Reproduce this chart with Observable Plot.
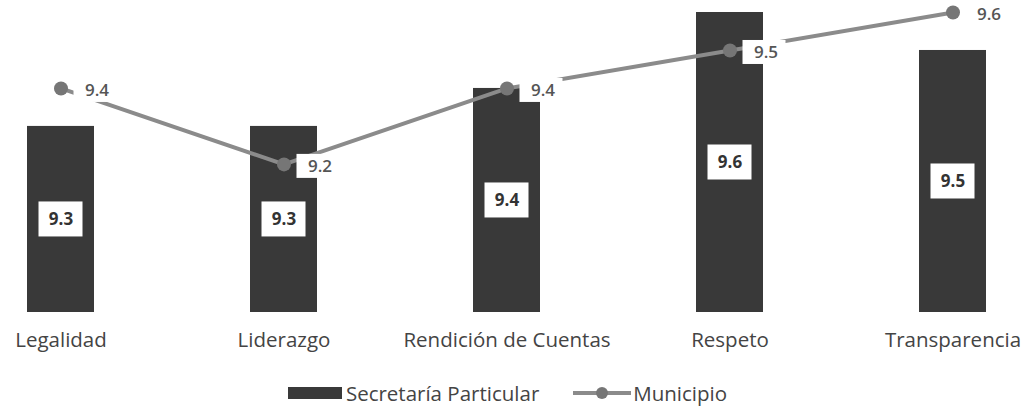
<!DOCTYPE html>
<html><head><meta charset="utf-8">
<script src="https://cdn.jsdelivr.net/npm/d3@7"></script>
<script src="https://cdn.jsdelivr.net/npm/@observablehq/plot@0.6"></script>
<style>
body{margin:0;background:#fff;font-family:"Open Sans",sans-serif;}
#legend{display:flex;justify-content:center;align-items:center;height:41px;font-size:20.5px;color:#444;padding-right:9px;}
#legend .item{display:flex;align-items:center;margin:0 17px;}
</style></head><body><div id="chart"></div><div id="legend"></div>
<script>
const categories = ["Legalidad","Liderazgo","Rendición de Cuentas","Respeto","Transparencia"];
const secretaria = [9.3, 9.3, 9.4, 9.6, 9.5];
const municipio = [9.4, 9.2, 9.4, 9.5, 9.6];
const seriesNames = ["Secretaría Particular", "Municipio"];
const yMin = 8.81, yMax = 9.6;

const data = categories.map((c, i) => ({cat: c, sec: secretaria[i], mun: municipio[i]}));
const H = 372, mTop = 12, mBottom = 60;
const ppu = (H - mTop - mBottom) / (yMax - yMin);
const boxH = 17.5 / ppu;   // half height of bar label boxes
const lboxH = 12 / ppu;    // half height of line label boxes
const lboxOff = 2 / ppu;

const barColor = "#393939", lineColor = "#8b8b8b", dotColor = "#767676";

const chart = Plot.plot({
  width: 1024, height: H,
  marginTop: mTop, marginBottom: mBottom, marginLeft: 0, marginRight: 12,
  style: {fontFamily: "Open Sans, sans-serif", background: "white"},
  x: {domain: categories, paddingInner: 0.7, paddingOuter: 0.11, label: null},
  y: {domain: [yMin, yMax], axis: null},
  marks: [
    Plot.barY(data, {x: "cat", y1: () => yMin, y2: "sec", fill: barColor}),
    Plot.line(data, {x: "cat", y: "mun", stroke: lineColor, strokeWidth: 4}),
    Plot.dot(data, {x: "cat", y: "mun", r: 7, fill: dotColor}),
    Plot.barY(data, {x: "cat", y1: d => d.mun - lboxOff - lboxH, y2: d => d.mun - lboxOff + lboxH,
      insetLeft: 33.5 + 13, insetRight: -(56 - 33.5), fill: "white"}),
    Plot.text(data, {x: "cat", y: "mun", dx: 36, dy: 2, text: d => d.mun.toFixed(1), fill: "#555",
      fontSize: 17, fontWeight: 600}),
    Plot.barY(data, {x: "cat", y1: d => (yMin + d.sec) / 2 - boxH, y2: d => (yMin + d.sec) / 2 + boxH,
      insetLeft: 11.5, insetRight: 11.5, fill: "white"}),
    Plot.text(data, {x: "cat", y: d => (yMin + d.sec) / 2, text: d => d.sec.toFixed(1), fill: "#333",
      fontSize: 17, fontWeight: "bold"}),
    Plot.axisX({tickSize: 0, tickPadding: 20, fontSize: 20.5, color: "#444", label: null})
  ]
});
document.getElementById("chart").appendChild(chart);

const legend = document.getElementById("legend");
legend.innerHTML = `
<div class="item"><svg width="54" height="14"><rect x="0" y="1" width="54" height="12" fill="${barColor}"/></svg><span style="margin-left:4px">${seriesNames[0]}</span></div>
<div class="item"><svg width="58" height="14"><line x1="0" y1="7" x2="58" y2="7" stroke="${lineColor}" stroke-width="4"/><circle cx="29" cy="7" r="6" fill="${dotColor}"/></svg><span style="margin-left:2px">${seriesNames[1]}</span></div>`;
</script></body></html>
